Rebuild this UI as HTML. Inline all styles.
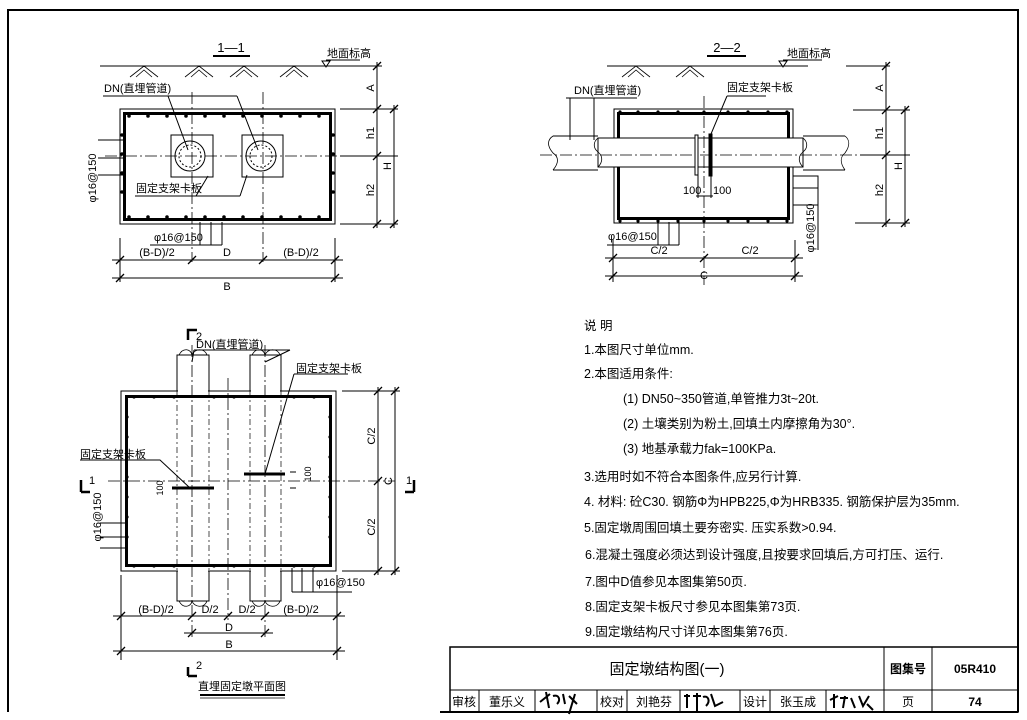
<!DOCTYPE html>
<html><head><meta charset="utf-8"><style>
html,body{margin:0;padding:0;background:#fff;}
svg{display:block;}
text{font-family:"Liberation Sans","Noto Sans CJK SC",sans-serif;fill:#000;}
.t{font-size:11px;}
.n{font-size:12.5px;}
</style></head><body>
<svg width="1027" height="720" viewBox="0 0 1027 720" xmlns="http://www.w3.org/2000/svg">
<defs>
<pattern id="d" x="0" y="0" width="19" height="19" patternUnits="userSpaceOnUse"></pattern>
</defs>
<g fill="none" stroke="#000">
<!-- page border -->
<path d="M8,712 L8,10 L1018,10 L1018,712" stroke-width="2"/>
<line x1="440" y1="712" x2="1018" y2="712" stroke-width="2"/>
<!-- title block -->
<rect x="450" y="647" width="568" height="65" stroke-width="1.5"/>
<line x1="450" y1="690" x2="884" y2="690"/>
<line x1="884" y1="647" x2="884" y2="712"/>
<line x1="932" y1="647" x2="932" y2="712"/>
<line x1="884" y1="690" x2="1018" y2="690"/>
<g stroke-width="1">
<line x1="479" y1="690" x2="479" y2="712"/><line x1="535" y1="690" x2="535" y2="712"/>
<line x1="597" y1="690" x2="597" y2="712"/><line x1="627" y1="690" x2="627" y2="712"/>
<line x1="680" y1="690" x2="680" y2="712"/><line x1="740" y1="690" x2="740" y2="712"/>
<line x1="770" y1="690" x2="770" y2="712"/><line x1="826" y1="690" x2="826" y2="712"/>
</g>
<!-- signatures -->
<path d="M540,702 l10,-8 m-4,-2 l3,16 m4,-12 c6,-2 8,4 4,8 m6,-10 l2,10 m4,-8 l8,8 m-2,-10 l-6,20" stroke-width="2"/>
<path d="M684,696 l6,0 m-3,-2 l0,14 m6,-12 l8,0 m-4,-3 l0,18 m6,-14 c5,-2 8,4 3,9 m5,-12 l4,12 l8,-4" stroke-width="2"/>
<path d="M830,700 l8,-4 m-4,-2 l0,14 m6,-10 l8,0 m-3,-2 l-2,12 m8,-10 l4,10 m4,-12 l4,10 l6,-10 m-2,8 l6,6" stroke-width="2"/>

<!-- ===== Section 1-1 ===== -->
<line x1="213" y1="56" x2="250" y2="56" stroke-width="2"/>
<line x1="100" y1="66" x2="377" y2="66"/>
<line x1="326" y1="60" x2="360" y2="60"/>
<path d="M322,61 L330,61 L326,67 Z"/>
<g stroke-width="0.8">
<path d="M130,77 l14,-11 l14,11 M136,77 l8,-7 l8,7 M185,77 l14,-11 l14,11 M191,77 l8,-7 l8,7 M230,77 l14,-11 l14,11 M236,77 l8,-7 l8,7 M280,77 l14,-11 l14,11 M286,77 l8,-7 l8,7"/>
</g>
<rect x="120" y="109" width="215" height="115"/>
<rect x="124.5" y="113.5" width="206" height="106" stroke-width="3"/>
<line x1="105" y1="156" x2="345" y2="156" stroke-dasharray="12,3,2,3" stroke-width="0.8"/>
<line x1="192" y1="92" x2="192" y2="262" stroke-dasharray="12,3,2,3" stroke-width="0.8"/>
<line x1="263" y1="92" x2="263" y2="262" stroke-dasharray="12,3,2,3" stroke-width="0.8"/>
<rect x="171" y="135" width="42" height="42"/>
<rect x="242" y="135" width="41" height="42"/>
<circle cx="190" cy="156" r="15"/><circle cx="190" cy="156" r="11" stroke-dasharray="2,2"/>
<circle cx="261" cy="156" r="15"/><circle cx="261" cy="156" r="11" stroke-dasharray="2,2"/>
<path d="M103,96 L237,96 M168,96 L188,150 M237,96 L258,150"/>
<path d="M135,196 L240,196 M196,196 L208,176 L208,176 M240,196 L247,175"/>
<path d="M98,140 L124,140 M98,175 L124,175 M98,158 L124,158"/>
<path d="M200,222 L200,245 M211,222 L211,245 M222,222 L222,245 M150,245 L222,245"/>
<line x1="120" y1="238" x2="120" y2="282"/><line x1="335" y1="238" x2="335" y2="282"/>
<line x1="112" y1="260" x2="343" y2="260"/><line x1="112" y1="278" x2="343" y2="278"/>
<line x1="355" y1="66" x2="382" y2="66"/><line x1="340" y1="109" x2="398" y2="109"/>
<line x1="340" y1="156" x2="398" y2="156"/><line x1="340" y1="224" x2="398" y2="224"/>
<line x1="377" y1="62" x2="377" y2="228"/><line x1="394" y1="105" x2="394" y2="228"/>

<!-- ===== Section 2-2 ===== -->
<line x1="707" y1="56" x2="746" y2="56" stroke-width="2"/>
<line x1="607" y1="66" x2="808" y2="66"/>
<line x1="783" y1="60" x2="822" y2="60"/>
<path d="M779,61 L787,61 L783,67 Z"/>
<path d="M622,77 l14,-11 l14,11 M628,77 l8,-7 l8,7 M676,77 l14,-11 l14,11 M682,77 l8,-7 l8,7" stroke-width="0.8"/>
<rect x="614" y="109" width="179" height="114"/>
<rect x="618.5" y="113.5" width="170" height="105" stroke-width="3"/>
<rect x="598" y="138" width="205" height="29" fill="#fff"/>
<path d="M553,136 L598,136 M553,170 L598,170 M803,136 L845,136 M803,170 L845,170"/>
<path d="M553,136 c-6,4 -6,10 0,17 c6,4 6,10 0,17 M598,138 c-5,4 -5,10 0,14 c5,4 5,10 0,15 M803,138 c5,4 5,10 0,14 c-5,4 -5,10 0,15 M845,136 c5,4 5,10 0,17 c-5,4 -5,10 0,17" stroke-width="0.8"/>
<line x1="540" y1="155" x2="860" y2="155" stroke-dasharray="12,3,2,3" stroke-width="0.8"/>
<line x1="704" y1="96" x2="704" y2="285" stroke-dasharray="12,3,2,3" stroke-width="0.8"/>
<rect x="695" y="135" width="3" height="40" fill="#fff"/>
<rect x="709" y="134" width="3" height="42" fill="#000"/>
<path d="M698,175 L698,198 M711,176 L711,198 M696,196 L713,196"/>
<path d="M566,98 L637,98 M570,98 L570,140 M594,98 L594,140"/>
<path d="M727,96 L766,96 M727,96 L711,134"/>
<path d="M793,176 L818,176 L818,250 M793,188 L818,188 M793,205 L818,205"/>
<path d="M607,245 L679,245 M658,222 L658,245 M669,222 L669,245 M679,222 L679,245"/>
<line x1="613" y1="240" x2="613" y2="282"/><line x1="795" y1="240" x2="795" y2="282"/>
<line x1="605" y1="258" x2="803" y2="258"/><line x1="605" y1="276" x2="803" y2="276"/>
<line x1="846" y1="66" x2="890" y2="66"/><line x1="853" y1="110" x2="910" y2="110"/>
<line x1="860" y1="155" x2="910" y2="155"/><line x1="855" y1="223" x2="910" y2="223"/>
<line x1="886" y1="62" x2="886" y2="227"/><line x1="905" y1="106" x2="905" y2="227"/>

<!-- ===== Plan ===== -->
<rect x="121" y="391" width="215" height="180"/>
<rect x="177" y="355" width="32" height="36" fill="#fff"/>
<rect x="250" y="355" width="31" height="36" fill="#fff"/>
<rect x="177" y="571" width="32" height="30" fill="#fff"/>
<rect x="250" y="571" width="31" height="30" fill="#fff"/>
<line x1="178" y1="391" x2="208" y2="391" stroke="#fff" stroke-width="2"/>
<line x1="251" y1="391" x2="280" y2="391" stroke="#fff" stroke-width="2"/>
<line x1="178" y1="571" x2="208" y2="571" stroke="#fff" stroke-width="2"/>
<line x1="251" y1="571" x2="280" y2="571" stroke="#fff" stroke-width="2"/>
<path d="M179,355 c4,-8 12,-6 13,0 c2,-6 12,-8 15,0 M252,355 c4,-8 12,-6 13,0 c2,-6 12,-8 15,0 M179,601 c4,8 12,6 13,0 c2,6 12,8 15,0 M252,601 c4,8 12,6 13,0 c2,6 12,8 15,0" stroke-width="0.8"/>
<rect x="126.5" y="396.5" width="204" height="169" stroke-width="3"/>
<g stroke-dasharray="6,3,2,3" stroke-width="0.7">
<line x1="177" y1="391" x2="177" y2="571"/><line x1="209" y1="391" x2="209" y2="571"/>
<line x1="250" y1="391" x2="250" y2="571"/><line x1="281" y1="391" x2="281" y2="571"/>
</g>
<g stroke-dasharray="12,3,2,3" stroke-width="0.8">
<line x1="192" y1="345" x2="192" y2="640"/><line x1="265" y1="345" x2="265" y2="640"/>
<line x1="228" y1="378" x2="228" y2="620"/>
<line x1="108" y1="481" x2="395" y2="481"/>
</g>
<line x1="172" y1="488" x2="214" y2="488" stroke-width="3"/>
<line x1="244" y1="474" x2="285" y2="474" stroke-width="3"/>
<path d="M194,350 L290,350 M194,350 L192,362 M290,350 L265,362"/>
<path d="M294,374 L348,374 M294,374 L265,474"/>
<path d="M80,460 L160,460 L190,488"/>
<path d="M100,523 L128,523 M100,537 L128,537 M100,548 L128,548 M100,548 L100,548"/>
<path d="M292,568 L292,592 M302,568 L302,592 M313,568 L313,592 M292,592 L352,592"/>
<path d="M290,472 L296,472 M290,488 L296,488"/>
<line x1="121" y1="575" x2="121" y2="660"/><line x1="337" y1="575" x2="337" y2="660"/>
<line x1="113" y1="616" x2="345" y2="616"/>
<line x1="184" y1="633" x2="273" y2="633"/>
<line x1="113" y1="651" x2="345" y2="651"/>
<line x1="342" y1="391" x2="400" y2="391"/><line x1="342" y1="571" x2="400" y2="571"/>
<line x1="378" y1="387" x2="378" y2="575"/><line x1="395" y1="387" x2="395" y2="575"/>
<path d="M188,340 L188,330 L197,330 M188,676 L188,667 M188,676 L197,676 M81,492 L81,480 M81,492 L90,492 M414,492 L414,480 M414,492 L405,492" stroke-width="2.5"/>
<line x1="200" y1="695" x2="285" y2="695" stroke-width="2"/>
<line x1="200" y1="698" x2="285" y2="698" stroke-width="0.8"/>
</g>

<!-- ticks -->
<g stroke="#000" stroke-width="1.3">
<path d="M116,264 l8,-8 M188,264 l8,-8 M259,264 l8,-8 M331,264 l8,-8 M116,282 l8,-8 M331,282 l8,-8"/>
<path d="M373,70 l8,-8 M373,113 l8,-8 M373,160 l8,-8 M373,228 l8,-8 M390,113 l8,-8 M390,228 l8,-8"/>
<path d="M609,262 l8,-8 M700,262 l8,-8 M791,262 l8,-8 M609,280 l8,-8 M791,280 l8,-8"/>
<path d="M882,70 l8,-8 M882,114 l8,-8 M882,159 l8,-8 M882,227 l8,-8 M901,114 l8,-8 M901,227 l8,-8"/>
<path d="M117,620 l8,-8 M188,620 l8,-8 M224,620 l8,-8 M261,620 l8,-8 M333,620 l8,-8 M188,637 l8,-8 M261,637 l8,-8 M117,655 l8,-8 M333,655 l8,-8"/>
<path d="M374,395 l8,-8 M374,485 l8,-8 M374,575 l8,-8 M391,395 l8,-8 M391,575 l8,-8"/>
</g>

<!-- rebar dots -->
<g fill="#000">
<g id="r1">
<circle cx="129" cy="116" r="1.8"/><circle cx="148" cy="116" r="1.8"/><circle cx="167" cy="116" r="1.8"/><circle cx="186" cy="116" r="1.8"/><circle cx="205" cy="116" r="1.8"/><circle cx="224" cy="116" r="1.8"/><circle cx="243" cy="116" r="1.8"/><circle cx="262" cy="116" r="1.8"/><circle cx="281" cy="116" r="1.8"/><circle cx="300" cy="116" r="1.8"/><circle cx="319" cy="116" r="1.8"/>
</g>
<use href="#r1" y="101"/>
<circle cx="122" cy="135" r="1.8"/><circle cx="122" cy="154" r="1.8"/><circle cx="122" cy="173" r="1.8"/><circle cx="122" cy="192" r="1.8"/>
<circle cx="333" cy="135" r="1.8"/><circle cx="333" cy="154" r="1.8"/><circle cx="333" cy="173" r="1.8"/><circle cx="333" cy="192" r="1.8"/>
<g id="r2">
<circle cx="620" cy="112" r="1.6"/><circle cx="638" cy="112" r="1.6"/><circle cx="658" cy="112" r="1.6"/><circle cx="678" cy="112" r="1.6"/><circle cx="704" cy="112" r="1.6"/><circle cx="728" cy="112" r="1.6"/><circle cx="748" cy="112" r="1.6"/><circle cx="768" cy="112" r="1.6"/><circle cx="787" cy="112" r="1.6"/>
</g>
<use href="#r2" y="109"/>
<g id="r3">
<circle cx="134" cy="397" r="1.6"/><circle cx="154" cy="397" r="1.6"/><circle cx="174" cy="397" r="1.6"/><circle cx="214" cy="397" r="1.6"/><circle cx="234" cy="397" r="1.6"/><circle cx="294" cy="397" r="1.6"/><circle cx="314" cy="397" r="1.6"/>
</g>
<use href="#r3" y="169"/>
<circle cx="127" cy="417" r="1.6"/><circle cx="127" cy="437" r="1.6"/><circle cx="127" cy="457" r="1.6"/><circle cx="127" cy="477" r="1.6"/><circle cx="127" cy="497" r="1.6"/><circle cx="127" cy="517" r="1.6"/><circle cx="127" cy="537" r="1.6"/>
<circle cx="330" cy="417" r="1.6"/><circle cx="330" cy="437" r="1.6"/><circle cx="330" cy="457" r="1.6"/><circle cx="330" cy="477" r="1.6"/><circle cx="330" cy="497" r="1.6"/><circle cx="330" cy="517" r="1.6"/><circle cx="330" cy="537" r="1.6"/>
</g>

<!-- labels -->
<g class="t">
<text x="231" y="52" text-anchor="middle" font-size="13">1—1</text>
<text x="327" y="57">地面标高</text>
<text x="104" y="92">DN(直埋管道)</text>
<text x="136" y="192">固定支架卡板</text>
<text x="154" y="241">φ16@150</text>
<text x="157" y="256" text-anchor="middle">(B-D)/2</text>
<text x="227" y="256" text-anchor="middle">D</text>
<text x="301" y="256" text-anchor="middle">(B-D)/2</text>
<text x="227" y="290" text-anchor="middle">B</text>
<text transform="translate(96,178) rotate(-90)" text-anchor="middle">φ16@150</text>
<text transform="translate(374,88) rotate(-90)" text-anchor="middle">A</text>
<text transform="translate(374,133) rotate(-90)" text-anchor="middle">h1</text>
<text transform="translate(374,190) rotate(-90)" text-anchor="middle">h2</text>
<text transform="translate(391,166) rotate(-90)" text-anchor="middle">H</text>

<text x="727" y="52" text-anchor="middle" font-size="13">2—2</text>
<text x="787" y="57">地面标高</text>
<text x="574" y="94">DN(直埋管道)</text>
<text x="727" y="91">固定支架卡板</text>
<text x="683" y="194">100</text>
<text x="713" y="194">100</text>
<text x="608" y="240">φ16@150</text>
<text x="659" y="254" text-anchor="middle">C/2</text>
<text x="750" y="254" text-anchor="middle">C/2</text>
<text x="704" y="279" text-anchor="middle">C</text>
<text transform="translate(814,228) rotate(-90)" text-anchor="middle">φ16@150</text>
<text transform="translate(883,88) rotate(-90)" text-anchor="middle">A</text>
<text transform="translate(883,133) rotate(-90)" text-anchor="middle">h1</text>
<text transform="translate(883,190) rotate(-90)" text-anchor="middle">h2</text>
<text transform="translate(902,166) rotate(-90)" text-anchor="middle">H</text>

<text x="196" y="340">2</text>
<text x="196" y="669">2</text>
<text x="89" y="484">1</text>
<text x="406" y="484">1</text>
<text x="196" y="348">DN(直埋管道)</text>
<text x="296" y="372">固定支架卡板</text>
<text x="80" y="458">固定支架卡板</text>
<text x="316" y="586">φ16@150</text>
<text transform="translate(101,517) rotate(-90)" text-anchor="middle">φ16@150</text>
<text transform="translate(163,488) rotate(-90)" text-anchor="middle" font-size="9">100</text>
<text transform="translate(311,474) rotate(-90)" text-anchor="middle" font-size="9">100</text>
<text x="156" y="613" text-anchor="middle">(B-D)/2</text>
<text x="210" y="613" text-anchor="middle">D/2</text>
<text x="247" y="613" text-anchor="middle">D/2</text>
<text x="301" y="613" text-anchor="middle">(B-D)/2</text>
<text x="229" y="631" text-anchor="middle">D</text>
<text x="229" y="648" text-anchor="middle">B</text>
<text transform="translate(375,436) rotate(-90)" text-anchor="middle">C/2</text>
<text transform="translate(375,527) rotate(-90)" text-anchor="middle">C/2</text>
<text transform="translate(392,481) rotate(-90)" text-anchor="middle">C</text>
<text x="242" y="690" text-anchor="middle">直埋固定墩平面图</text>
</g>

<!-- notes -->
<g class="n">
<text x="584" y="330">说 明</text>
<text x="584" y="354">1.本图尺寸单位mm.</text>
<text x="584" y="378">2.本图适用条件:</text>
<text x="623" y="403">(1) DN50~350管道,单管推力3t~20t.</text>
<text x="623" y="428">(2) 土壤类别为粉土,回填土内摩擦角为30°.</text>
<text x="623" y="453">(3) 地基承载力fak=100KPa.</text>
<text x="584" y="481">3.选用时如不符合本图条件,应另行计算.</text>
<text x="584" y="506">4. 材料: 砼C30. 钢筋Φ为HPB225,Φ为HRB335. 钢筋保护层为35mm.</text>
<text x="584" y="532">5.固定墩周围回填土要夯密实. 压实系数&gt;0.94.</text>
<text x="585" y="559">6.混凝土强度必须达到设计强度,且按要求回填后,方可打压、运行.</text>
<text x="585" y="586">7.图中D值参见本图集第50页.</text>
<text x="585" y="611">8.固定支架卡板尺寸参见本图集第73页.</text>
<text x="585" y="636">9.固定墩结构尺寸详见本图集第76页.</text>
</g>

<!-- title block text -->
<text x="667" y="674" text-anchor="middle" font-size="15">固定墩结构图(一)</text>
<text x="908" y="673" text-anchor="middle" font-size="12" font-weight="bold">图集号</text>
<text x="975" y="673" text-anchor="middle" font-size="12" font-weight="bold">05R410</text>
<g font-size="12">
<text x="464" y="706" text-anchor="middle">审核</text>
<text x="507" y="706" text-anchor="middle">董乐义</text>
<text x="612" y="706" text-anchor="middle">校对</text>
<text x="654" y="706" text-anchor="middle">刘艳芬</text>
<text x="755" y="706" text-anchor="middle">设计</text>
<text x="798" y="706" text-anchor="middle">张玉成</text>
<text x="908" y="706" text-anchor="middle">页</text>
<text x="975" y="706" text-anchor="middle" font-weight="bold">74</text>
</g>
</svg>
</body></html>
